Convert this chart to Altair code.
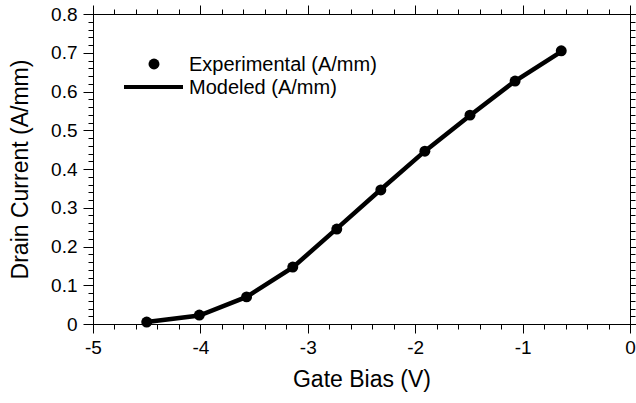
import altair as alt
import pandas as pd

# Data
gate_bias = [-4.50, -4.01, -3.57, -3.14, -2.73, -2.32, -1.91, -1.49, -1.07, -0.64]
exp_current = [0.005, 0.023, 0.070, 0.147, 0.245, 0.346, 0.446, 0.539, 0.627, 0.705]
mod_current = [0.005, 0.022, 0.070, 0.146, 0.246, 0.347, 0.446, 0.538, 0.627, 0.703]
legend_labels = ["Experimental (A/mm)", "Modeled (A/mm)"]

x_major_ticks = [-5, -4, -3, -2, -1, 0]
x_minor_ticks = [round(-5 + 0.2 * i, 1) for i in range(26)]
y_major_ticks = [round(0.1 * i, 1) for i in range(9)]
y_minor_ticks = [round(0.02 * i, 2) for i in range(41)]

df = pd.DataFrame({"bias": gate_bias, "exp": exp_current, "mod": mod_current})

FONT = "Liberation Sans"

x_scale = alt.Scale(domain=[-5, 0], nice=False, zero=False)
y_scale = alt.Scale(domain=[0, 0.8], nice=False, zero=False)

common_axis = dict(
    grid=False,
    domainColor="#000000",
    tickColor="#000000",
    domainWidth=1,
    tickWidth=1,
    labelFont=FONT,
    labelFontSize=19,
    labelColor="#000000",
    titleFont=FONT,
    titleFontSize=23,
    titleFontWeight="normal",
    titleColor="#000000",
    labelOverlap=False,
    labelFlush=False,
)
plain = dict(grid=False, domainColor="#000000", tickColor="#000000",
             domainWidth=1, tickWidth=1, title=None, labels=False)

x_axis = alt.Axis(
    values=x_major_ticks, title="Gate Bias (V)", tickSize=9,
    labelExpr="toString(round(datum.value))",
    labelPadding=5, titlePadding=11, **common_axis,
)
y_axis = alt.Axis(
    values=y_major_ticks, title="Drain Current (A/mm)", tickSize=10,
    labelExpr="abs(datum.value) < 1e-6 ? '0' : format(datum.value, '.1f')",
    labelPadding=6, titlePadding=18, **common_axis,
)

base = alt.Chart(df)

line = base.mark_line(color="black", strokeWidth=4.5).encode(
    x=alt.X("bias:Q", scale=x_scale, axis=x_axis),
    y=alt.Y("mod:Q", scale=y_scale, axis=y_axis),
)
pts = base.mark_point(filled=True, color="black", opacity=1, size=120).encode(
    x=alt.X("bias:Q", scale=x_scale, axis=None),
    y=alt.Y("exp:Q", scale=y_scale, axis=None),
)
minor_bl = base.mark_point(opacity=0).encode(
    x=alt.X("bias:Q", scale=x_scale,
            axis=alt.Axis(values=x_minor_ticks, orient="bottom", tickSize=5, **plain)),
    y=alt.Y("exp:Q", scale=y_scale,
            axis=alt.Axis(values=y_minor_ticks, orient="left", tickSize=5, **plain)),
)
major_tr = base.mark_point(opacity=0).encode(
    x=alt.X("bias:Q", scale=x_scale,
            axis=alt.Axis(values=x_major_ticks, orient="top", tickSize=9, **plain)),
    y=alt.Y("exp:Q", scale=y_scale,
            axis=alt.Axis(values=y_major_ticks, orient="right", tickSize=10, **plain)),
)
minor_tr = base.mark_point(opacity=0).encode(
    x=alt.X("bias:Q", scale=x_scale,
            axis=alt.Axis(values=x_minor_ticks, orient="top", tickSize=5, **plain)),
    y=alt.Y("exp:Q", scale=y_scale,
            axis=alt.Axis(values=y_minor_ticks, orient="right", tickSize=5, **plain)),
)

leg_df = pd.DataFrame({"label": legend_labels})
leg_pt = alt.Chart(leg_df.iloc[[0]]).mark_point(filled=True, color="black", opacity=1, size=120).encode(
    x=alt.value(61), y=alt.value(50)
)
leg_line = alt.Chart(leg_df.iloc[[1]]).mark_rule(color="black", strokeWidth=4).encode(
    x=alt.value(31), x2=alt.value(90), y=alt.value(73)
)
leg_txt1 = alt.Chart(leg_df.iloc[[0]]).mark_text(
    align="left", baseline="middle", font=FONT, fontSize=20, color="black"
).encode(x=alt.value(96), y=alt.value(51), text="label:N")
leg_txt2 = alt.Chart(leg_df.iloc[[1]]).mark_text(
    align="left", baseline="middle", font=FONT, fontSize=20, color="black"
).encode(x=alt.value(96), y=alt.value(74), text="label:N")

chart = (
    alt.layer(line, pts, minor_bl, major_tr, minor_tr, leg_pt, leg_line, leg_txt1, leg_txt2)
    .resolve_axis(x="independent", y="independent")
    .properties(
        width=537,
        height=310,
        autosize=alt.AutoSizeParams(type="none"),
        padding={"left": 93, "top": 14, "right": 6, "bottom": 79},
        background="white",
    )
    .configure_view(stroke=None)
)

chart.save("out.html", embed_options={"renderer": "svg", "actions": False})
